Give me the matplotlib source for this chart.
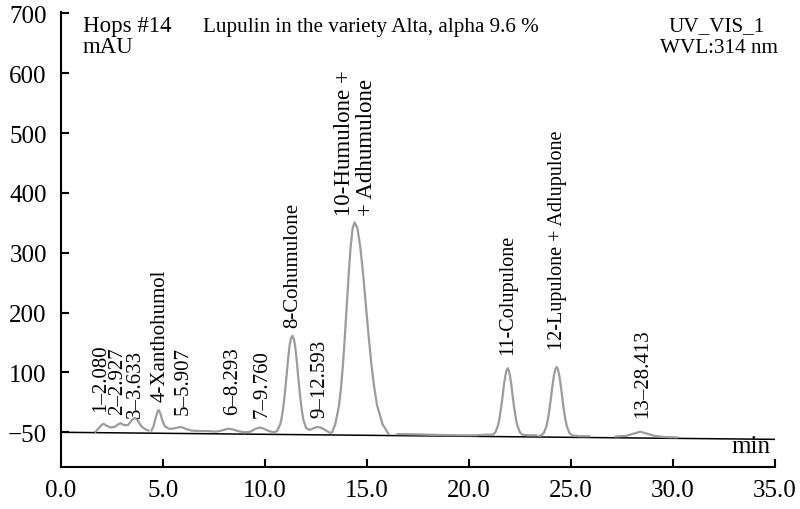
import numpy as np
import matplotlib
matplotlib.use("Agg")
import matplotlib.pyplot as plt

plt.rcParams['font.family'] = ['Liberation Serif', 'DejaVu Serif']

nan = float('nan')

trace_time = [
    1.70, 1.85, 2.00, 2.10, 2.25, 2.45, 2.65, 2.85, 2.95, 3.10, 3.30, 3.50, 3.63, 3.75, 3.95, 4.15, 4.30, nan,
    4.45, 4.55, 4.65, 4.75, 4.80, 4.88, 4.98, 5.10, 5.30, 5.50, 5.75, 5.90, 6.10, 6.40, 6.80, 7.20, 7.60, 7.90,
    8.20, 8.40, 8.70, 9.00, 9.30, 9.55, 9.76, 9.95, 10.20, 10.45, 10.60, 10.75, 10.81, 10.8775, 10.945, 11.0125,
    11.08, 11.1475, 11.215, 11.2825, 11.35, 11.4175, 11.485, 11.5525, 11.62, 11.6875, 11.755, 11.8225, 11.89,
    12.025, 12.20, 12.40, 12.59, 12.80, 13.00, 13.20, 13.30, 13.45, 13.64, 13.735, 13.83, 13.925, 14.02, 14.115,
    14.21, 14.305, 14.40, 14.5375, 14.675, 14.8125, 14.95, 15.0875, 15.225, 15.3625, 15.50, 15.775, 16.05, nan,
    16.50, 17.5, 18.5, 19.5, 20.3, 20.8, 21.18, 21.30, 21.42, 21.48, 21.54, 21.60, 21.66, 21.72, 21.78, 21.84,
    21.90, 21.96, 22.02, 22.08, 22.14, 22.20, 22.26, 22.32, 22.38, 22.50, 22.62, 22.90, 23.30, nan,
    23.45, 23.55, 23.675, 23.80, 23.8625, 23.925, 23.9875, 24.05, 24.1125, 24.175, 24.2375, 24.30, 24.3625,
    24.425, 24.4875, 24.55, 24.6125, 24.675, 24.7375, 24.80, 24.925, 25.05, 25.40, 25.90, nan,
    27.2, 27.7, 28.1, 28.4, 28.7, 29.1, 29.6, 30.2,
]
trace_mau = [
    1, 6, 12, 14, 11, 8, 9, 14, 15, 12, 12, 21, 24, 21, 10, 5, 3, nan,
    3, 10, 24, 35, 37, 32, 20, 10, 6, 6, 8, 9, 6, 3, 2, 2, 1, 3,
    6, 5, 2, 0, 1, 6, 8, 6, 2, 0, 2, 13, 21, 35, 53, 75,
    99, 124, 145, 157, 161, 157, 145, 124, 99, 75, 53, 35, 21,
    7, 4, 7, 9, 7, 3, -1, 0, 13, 45, 75, 113, 161, 213, 266,
    311, 341, 351, 341, 311, 266, 213, 161, 113, 75, 45, 13, -2, nan,
    -3, -3.5, -4.5, -5, -5, -4, -4, 0, 11, 19, 32, 46, 62, 80, 93, 103,
    107, 103, 93, 80, 62, 46, 32, 19, 11, 0, -4, -5, -5, nan,
    -6, -5, -1, 10, 20, 33, 48, 65, 82, 96, 105, 109, 105,
    96, 82, 65, 48, 33, 20, 10, -1, -5, -6.5, -6.5, nan,
    -7, -6, -2, 1, -2, -6, -8, -8.5,
]

# Drawn baseline (start / end)
baseline_time = [0.0, 35.0]
baseline_mau = [0.0, -11.8]

peak_labels = ["1\u20132.080", "2\u20132.927", "3\u20133.633", "4-Xanthohumol", "5\u20135.907",
               "6\u20138.293", "7\u20139.760", "8-Cohumulone", "9\u201312.593",
               "10-Humulone +\n+ Adhumulone", "11-Colupulone", "12-Lupulone + Adlupulone",
               "13\u201328.413"]
peak_times = [2.08, 2.927, 3.633, 4.8, 5.907, 8.293, 9.76, 11.35, 12.593, 14.4, 21.9, 24.3, 28.413]

x_ticks = [0, 5, 10, 15, 20, 25, 30, 35]
x_tick_labels = ["0.0", "5.0", "10.0", "15.0", "20.0", "25.0", "30.0", "35.0"]
y_ticks = [0, 100, 200, 300, 400, 500, 600, 700]
y_tick_labels = ["\u221250", "100", "200", "300", "400", "500", "600", "700"]

# layout: label anchor positions (x in min, bottom in mAU) and sizes
label_x = [1.98, 2.81, 3.64, 4.87, 6.0, 8.4, 9.87, 11.39, 12.71, 14.45, 21.88, 24.33, 28.54]
label_bottom = [35, 30, 25, 52, 30, 30, 25, 176, 25, 363, 131, 139, 25]
label_size = [15, 15, 15, 15, 15, 15, 15, 15, 15, 16.5, 14.5, 14.5, 15]

W, H = 800, 510
fig = plt.figure(figsize=(W / 100, H / 100), dpi=100)
L, R, T, B = 60.7, 775, 13.3, 468
ax = fig.add_axes([L / W, (H - B) / H, (R - L) / W, (B - T) / H])

ax.plot(baseline_time, baseline_mau, color='black', lw=1.1)
ax.plot(trace_time, trace_mau, color='#9c9c9c', lw=1.6)

for lab, lx, lb, fs in zip(peak_labels, label_x, label_bottom, label_size):
    ax.text(lx, lb, lab, rotation=90, ha='center', va='bottom', fontsize=fs,
            multialignment='left', linespacing=1.1)

ax.set_xlim(0, 35)
ax.set_ylim(-58, 701.7)
ax.set_xticks(x_ticks)
ax.set_xticklabels(x_tick_labels)
ax.set_yticks(y_ticks)
ax.set_yticklabels(y_tick_labels)
for s in ['top', 'right']:
    ax.spines[s].set_visible(False)
for s in ['left', 'bottom']:
    ax.spines[s].set_linewidth(1.5)
ax.tick_params(axis='both', direction='in', length=6, width=1.5, labelsize=18)
ax.tick_params(axis='x', pad=8.4)
ax.tick_params(axis='y', pad=10)

ax.text(34.77, -33, "min", ha='right', va='baseline', fontsize=18)

def fy(px):
    return 1 - px / H

fig.text(83 / W, fy(32), "Hops #14", fontsize=16.5, va='baseline', ha='left')
fig.text(83 / W, fy(53), "mAU", fontsize=16.5, va='baseline', ha='left')
fig.text(203 / W, fy(32), "Lupulin in the variety Alta, alpha 9.6 %", fontsize=15.2, va='baseline', ha='left')
fig.text(716.5 / W, fy(31), "UV_VIS_1", fontsize=15.2, va='baseline', ha='center')
fig.text(718.5 / W, fy(53), "WVL:314 nm", fontsize=15.2, va='baseline', ha='center')

fig.savefig("out.png", dpi=100)
